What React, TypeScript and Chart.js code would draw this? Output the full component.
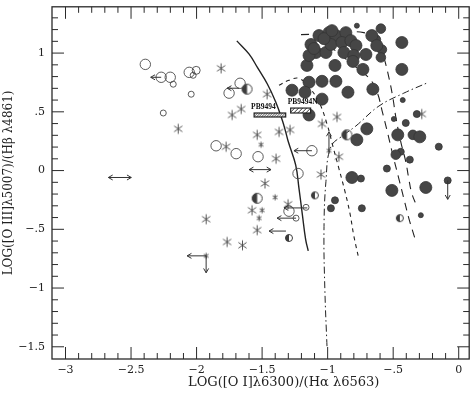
import React, { useEffect, useRef } from "react";
import { Chart, registerables } from "chart.js";
Chart.register(...registerables);

// ---- axis ticks ----
const xTickValues = [-3, -2.5, -2, -1.5, -1, -0.5, 0];
const xTickLabels = ["−3", "−2.5", "−2", "−1.5", "−1", "−.5", "0"];
const yTickValues = [-1.5, -1, -0.5, 0, 0.5, 1];
const yTickLabels = ["−1.5", "−1", "−.5", "0", ".5", "1"];
const xTitle = "LOG([O I]λ6300)/(Hα λ6563)";
const yTitle = "LOG([O III]λ5007)/(Hβ λ4861)";

// ---- filled circles (large / medium / small / tiny) ----
const filledLargeX = [-0.434,-1.127,-1.066,-0.990,-0.937,-0.861,-1.089,-1.013,-0.975,-0.891,-0.823,-0.784,-0.876,-0.800,-0.708,-0.663,-0.625,-1.158,-0.944,-0.807,-0.731,-0.434,-1.142,-1.043,-0.937,-1.272,-1.173,-1.043,-0.845,-0.655,-1.142,-0.777,-0.701,-0.465,-0.297,-0.815,-0.510,-0.251,-1.142,-1.104,-1.028,-0.967];
const filledLargeY = [1.090,1.073,1.149,1.174,1.149,1.174,1.005,1.005,1.073,1.090,1.106,1.064,1.005,0.980,0.988,1.149,1.064,0.895,0.895,0.929,0.861,0.861,0.752,0.760,0.760,0.684,0.667,0.608,0.667,0.693,0.473,0.262,0.355,0.304,0.287,-0.059,-0.169,-0.144,0.980,1.039,1.123,1.191];
const filledMediumX = [-0.594,-0.632,-0.586,-0.594,-0.350,-0.480];
const filledMediumY = [1.208,1.115,1.030,0.963,0.304,0.135];
const filledSmallX = [-0.404,-0.320,-0.152,-0.442,-0.373,-0.548,-0.746,-0.084,-0.739,-0.944,-0.975];
const filledSmallY = [0.405,0.481,0.203,0.160,0.093,0.017,-0.068,-0.084,-0.321,-0.253,-0.321];
const filledTinyX = [-0.777,-0.427,-0.495,-0.289];
const filledTinyY = [1.233,0.600,0.439,-0.380];

// ---- open circles ----
const openLargeX = [-2.391,-2.270,-2.201,-2.056,-1.752,-1.668,-1.851,-1.698,-1.531,-1.120,-1.295,-1.226];
const openLargeY = [0.904,0.794,0.794,0.836,0.659,0.743,0.211,0.144,0.118,0.169,-0.346,-0.025];
const openMediumX = [-2.003];
const openMediumY = [0.853];
const openSmallX = [-2.178,-2.026,-2.041,-2.254,-1.165,-1.241];
const openSmallY = [0.735,0.811,0.650,0.490,-0.313,-0.405];

// ---- half-filled circles ----
const halfLargeX = [-1.615,-0.853,-1.538];
const halfLargeY = [0.693,0.304,-0.236];
const halfSmallX = [-1.097,-1.295,-0.449];
const halfSmallY = [-0.211,-0.574,-0.405];

// ---- asterisks ----
const starLargeX = [-1.813,-2.140,-1.775,-1.729,-1.660,-1.462,-1.538,-1.371,-1.287,-1.394,-1.478,-1.302,-1.577,-1.538,-1.927,-1.767,-1.650,-1.051,-0.914,-1.043,-0.929,-0.282];
const starLargeY = [0.870,0.355,0.203,0.473,0.524,0.650,0.304,0.329,0.346,0.101,-0.110,-0.287,-0.338,-0.507,-0.414,-0.608,-0.636,-0.034,0.118,0.397,0.456,0.481];
const starSmallX = [-1.508,-1.401,-1.500,-1.523,-1.927,-0.990];
const starSmallY = [0.220,-0.228,-0.338,-0.405,-0.726,0.169];

// ---- limit arrows (start -> tip) ----
const arrowX0 = [-2.270,-1.676,-2.673,-1.927,-1.927,-1.599,-1.120,-1.155,-1.241,-1.318,-0.990,-0.084];
const arrowY0 = [0.794,0.701,-0.059,-0.726,-0.726,0.008,0.169,-0.318,-0.405,-0.515,0.160,-0.084];
const arrowX1 = [-2.350,-1.767,-2.498,-2.072,-1.927,-1.432,-1.257,-1.333,-1.386,-1.447,-0.990,-0.084];
const arrowY1 = [0.794,0.701,-0.059,-0.726,-0.870,0.008,0.169,-0.318,-0.405,-0.515,0.329,-0.245];
const arrowDouble = [false,false,true,false,false,true,false,false,false,false,false,false];

// ---- curves ----
const solidX = [-1.693,-1.599,-1.536,-1.460,-1.396,-1.346,-1.320,-1.300,-1.244,-1.219,-1.193,-1.168,-1.148];
const solidY = [1.104,0.991,0.878,0.737,0.583,0.428,0.329,0.245,0.048,-0.149,-0.374,-0.585,-0.684];
const shortDashX = [-1.371,-1.295,-1.219,-1.142,-1.066,-1.005,-0.959,-0.914,-0.868,-0.830,-0.800,-0.762];
const shortDashY = [0.726,0.769,0.785,0.709,0.583,0.397,0.203,0.017,-0.177,-0.363,-0.557,-0.752];
const longDashAX = [-0.990,-0.876,-0.762,-0.670,-0.617,-0.586,-0.548,-0.503,-0.457,-0.419,-0.381,-0.335];
const longDashAY = [1.064,0.963,0.861,0.769,0.650,0.515,0.346,0.135,-0.068,-0.236,-0.405,-0.574];
const longDashBX = [-1.203,-0.990,-0.724,-0.609,-0.571,-0.533,-0.503,-0.480,-0.442,-0.404,-0.381,-0.358,-0.320];
const longDashBY = [1.157,1.166,1.174,1.090,0.963,0.794,0.625,0.456,0.245,0.076,-0.068,-0.194,-0.304];
const dashDotX = [-1.005,-1.021,-1.028,-1.013,-0.975,-0.876,-0.784,-0.609,-0.419,-0.228];
const dashDotY = [-1.495,-1.022,-0.515,-0.093,0.203,0.304,0.380,0.549,0.659,0.752];

// ---- hatched boxes ----
const boxLabels = ["PB9494", "PB9494N"];
const boxX0 = [-1.561, -1.282];
const boxX1 = [-1.320, -1.130];
const boxY0 = [0.456, 0.490];
const boxY1 = [0.490, 0.532];

const SERIF = '"DejaVu Serif", serif';

function pts(xs: number[], ys: number[]) {
  return xs.map((x, i) => ({ x, y: ys[i] }));
}

function makeAsterisk(r: number) {
  const s = Math.ceil(r * 2 + 3);
  const c = document.createElement("canvas");
  c.width = s; c.height = s;
  const g = c.getContext("2d")!;
  g.strokeStyle = "#444";
  g.lineWidth = 0.9;
  const cx = s / 2, cy = s / 2;
  for (const a of [90, 35, 145]) {
    const t = (a * Math.PI) / 180;
    g.beginPath();
    g.moveTo(cx - Math.cos(t) * r, cy - Math.sin(t) * r);
    g.lineTo(cx + Math.cos(t) * r, cy + Math.sin(t) * r);
    g.stroke();
  }
  return c;
}

function makeHalf(r: number) {
  const s = Math.ceil(r * 2 + 3);
  const c = document.createElement("canvas");
  c.width = s; c.height = s;
  const g = c.getContext("2d")!;
  const cx = s / 2, cy = s / 2;
  g.fillStyle = "#3c3c3c";
  g.beginPath();
  g.arc(cx, cy, r, Math.PI / 2, (3 * Math.PI) / 2);
  g.closePath();
  g.fill();
  g.strokeStyle = "#3c3c3c";
  g.lineWidth = 1;
  g.beginPath();
  g.arc(cx, cy, r, 0, Math.PI * 2);
  g.stroke();
  return c;
}

const framePlugin = {
  id: "frameTicks",
  afterDatasetsDraw(chart: any) {
    const { ctx, chartArea: a, scales } = chart;
    const x = scales.x, y = scales.y;
    ctx.save();
    // arrows
    ctx.strokeStyle = "#333";
    ctx.lineWidth = 1;
    const head = (tx: number, ty: number, fx: number, fy: number) => {
      const dx = tx - fx, dy = ty - fy;
      const len = Math.hypot(dx, dy) || 1;
      const ux = dx / len, uy = dy / len;
      const L = 5, ang = Math.PI / 6;
      for (const s of [1, -1]) {
        const c = Math.cos(s * ang), sn = Math.sin(s * ang);
        const rx = ux * c - uy * sn, ry = ux * sn + uy * c;
        ctx.beginPath();
        ctx.moveTo(tx, ty);
        ctx.lineTo(tx - rx * L, ty - ry * L);
        ctx.stroke();
      }
    };
    for (let i = 0; i < arrowX0.length; i++) {
      const x0 = x.getPixelForValue(arrowX0[i]), y0 = y.getPixelForValue(arrowY0[i]);
      const x1 = x.getPixelForValue(arrowX1[i]), y1 = y.getPixelForValue(arrowY1[i]);
      ctx.beginPath();
      ctx.moveTo(x0, y0);
      ctx.lineTo(x1, y1);
      ctx.stroke();
      head(x1, y1, x0, y0);
      if (arrowDouble[i]) head(x0, y0, x1, y1);
    }
    // hatched boxes
    const gaps = [2.5, 4];
    for (let i = 0; i < boxLabels.length; i++) {
      const l = x.getPixelForValue(boxX0[i]), r = x.getPixelForValue(boxX1[i]);
      const t = y.getPixelForValue(boxY1[i]), b = y.getPixelForValue(boxY0[i]);
      ctx.save();
      ctx.fillStyle = i === 0 ? "#8a8a8a" : "#ffffff";
      ctx.fillRect(l, t, r - l, b - t);
      ctx.beginPath();
      ctx.rect(l, t, r - l, b - t);
      ctx.clip();
      ctx.strokeStyle = i === 0 ? "#ffffff" : "#333";
      ctx.lineWidth = 1;
      for (let k = l - (b - t); k < r + (b - t); k += gaps[i]) {
        ctx.beginPath();
        ctx.moveTo(k, b);
        ctx.lineTo(k + (b - t), t);
        ctx.stroke();
      }
      ctx.restore();
      ctx.strokeStyle = "#222";
      ctx.lineWidth = 1.2;
      ctx.strokeRect(l, t, r - l, b - t);
      ctx.fillStyle = "#111";
      ctx.font = 'bold 7.5px "Liberation Serif", serif';
      ctx.textAlign = "left";
      ctx.textBaseline = "alphabetic";
      ctx.fillText(boxLabels[i], l - 3, t - 4);
    }
    // frame
    ctx.strokeStyle = "#2a2a2a";
    ctx.lineWidth = 1.3;
    ctx.strokeRect(a.left, a.top, a.right - a.left, a.bottom - a.top);
    ctx.lineWidth = 1;
    for (let i = -40; i <= 10; i++) {
      const px = x.getPixelForValue(i / 10);
      if (px <= a.left + 1 || px >= a.right - 1) continue;
      const L = i % 5 === 0 ? 12 : 6;
      ctx.beginPath();
      ctx.moveTo(px, a.bottom); ctx.lineTo(px, a.bottom - L);
      ctx.moveTo(px, a.top); ctx.lineTo(px, a.top + L);
      ctx.stroke();
    }
    for (let i = -20; i <= 20; i++) {
      const py = y.getPixelForValue(i / 10);
      if (py <= a.top + 1 || py >= a.bottom - 1) continue;
      const L = i % 5 === 0 ? 12 : 6;
      ctx.beginPath();
      ctx.moveTo(a.left, py); ctx.lineTo(a.left + L, py);
      ctx.moveTo(a.right, py); ctx.lineTo(a.right - L, py);
      ctx.stroke();
    }
    // x-axis title (placed as in the original figure, slightly right of centre)
    ctx.fillStyle = "#222";
    ctx.font = `13px ${SERIF}`;
    ctx.textAlign = "left";
    ctx.textBaseline = "middle";
    ctx.fillText(xTitle, 188, 383);
    ctx.restore();
  },
};

export default function App() {
  const ref = useRef<HTMLCanvasElement | null>(null);
  useEffect(() => {
    if (!ref.current) return;
    const starL = makeAsterisk(5);
    const starS = makeAsterisk(3);
    const halfL = makeHalf(5);
    const halfS = makeHalf(3.5);
    const lineDs = (xs: number[], ys: number[], dash: number[], w: number) => ({
      type: "scatter" as const,
      data: pts(xs, ys),
      showLine: true,
      pointRadius: 0,
      borderColor: "#222",
      borderWidth: w,
      borderDash: dash,
      tension: 0.4,
      fill: false,
    });
    const filled = (xs: number[], ys: number[], r: number) => ({
      data: pts(xs, ys),
      pointRadius: r,
      pointStyle: "circle",
      backgroundColor: "#464646",
      borderColor: "#353535",
      borderWidth: 0.8,
    });
    const open = (xs: number[], ys: number[], r: number) => ({
      data: pts(xs, ys),
      pointRadius: r,
      pointStyle: "circle",
      backgroundColor: "rgba(0,0,0,0)",
      borderColor: "#4a4a4a",
      borderWidth: 0.9,
    });
    const img = (xs: number[], ys: number[], c: HTMLCanvasElement) => ({
      data: pts(xs, ys),
      pointStyle: c,
      pointRadius: 5,
    });
    const chart = new Chart(ref.current, {
      type: "scatter",
      data: {
        datasets: [
          filled(filledLargeX, filledLargeY, 6),
          filled(filledMediumX, filledMediumY, 4.8),
          filled(filledSmallX, filledSmallY, 3.5),
          filled(filledTinyX, filledTinyY, 2.5),
          open(openLargeX, openLargeY, 5.2),
          open(openMediumX, openMediumY, 4),
          open(openSmallX, openSmallY, 3),
          img(halfLargeX, halfLargeY, halfL),
          img(halfSmallX, halfSmallY, halfS),
          img(starLargeX, starLargeY, starL),
          img(starSmallX, starSmallY, starS),
          lineDs(solidX, solidY, [], 1.4),
          lineDs(shortDashX, shortDashY, [4, 4], 1.1),
          lineDs(longDashAX, longDashAY, [8, 6], 1.1),
          lineDs(longDashBX, longDashBY, [8, 6], 1.1),
          lineDs(dashDotX, dashDotY, [7, 3, 1.5, 3], 1.0),
        ] as any,
      },
      options: {
        animation: false,
        responsive: false,
        maintainAspectRatio: false,
        layout: { padding: { top: 4, right: 5, left: 0, bottom: 0 } },
        plugins: { legend: { display: false }, tooltip: { enabled: false } },
        scales: {
          x: {
            type: "linear",
            min: -3.103,
            max: 0.08,
            grid: { display: false, drawTicks: false },
            border: { display: false },
            afterBuildTicks: (s: any) => {
              s.ticks = xTickValues.map((v) => ({ value: v }));
            },
            afterFit: (s: any) => {
              s.height = 36;
              s.paddingLeft = 0;
              s.paddingRight = 0;
            },
            ticks: {
              autoSkip: false,
              maxRotation: 0,
              padding: 5,
              color: "#222",
              font: { family: SERIF, size: 11 },
              callback: (v: any) => {
                const i = xTickValues.findIndex((t) => Math.abs(t - v) < 1e-6);
                return i >= 0 ? xTickLabels[i] : "";
              },
            },
            title: { display: false },
          },
          y: {
            type: "linear",
            min: -1.604,
            max: 1.394,
            grid: { display: false, drawTicks: false },
            border: { display: false },
            afterBuildTicks: (s: any) => {
              s.ticks = yTickValues.map((v) => ({ value: v }));
            },
            afterFit: (s: any) => {
              s.width = 52;
              s.paddingTop = 0;
              s.paddingBottom = 0;
            },
            ticks: {
              autoSkip: false,
              padding: 7,
              color: "#222",
              font: { family: SERIF, size: 11 },
              callback: (v: any) => {
                const i = yTickValues.findIndex((t) => Math.abs(t - v) < 1e-6);
                return i >= 0 ? yTickLabels[i] : "";
              },
            },
            title: {
              display: true,
              text: yTitle,
              color: "#222",
              font: { family: SERIF, size: 12 },
              padding: { top: 2, bottom: 0 },
            },
          },
        },
      },
      plugins: [framePlugin as any],
    });
    return () => chart.destroy();
  }, []);
  return (
    <div style={{ position: "fixed", left: 0, top: 0, width: 476, height: 395, background: "#fff" }}>
      <canvas ref={ref} width={476} height={395} style={{ display: "block" }} />
    </div>
  );
}
